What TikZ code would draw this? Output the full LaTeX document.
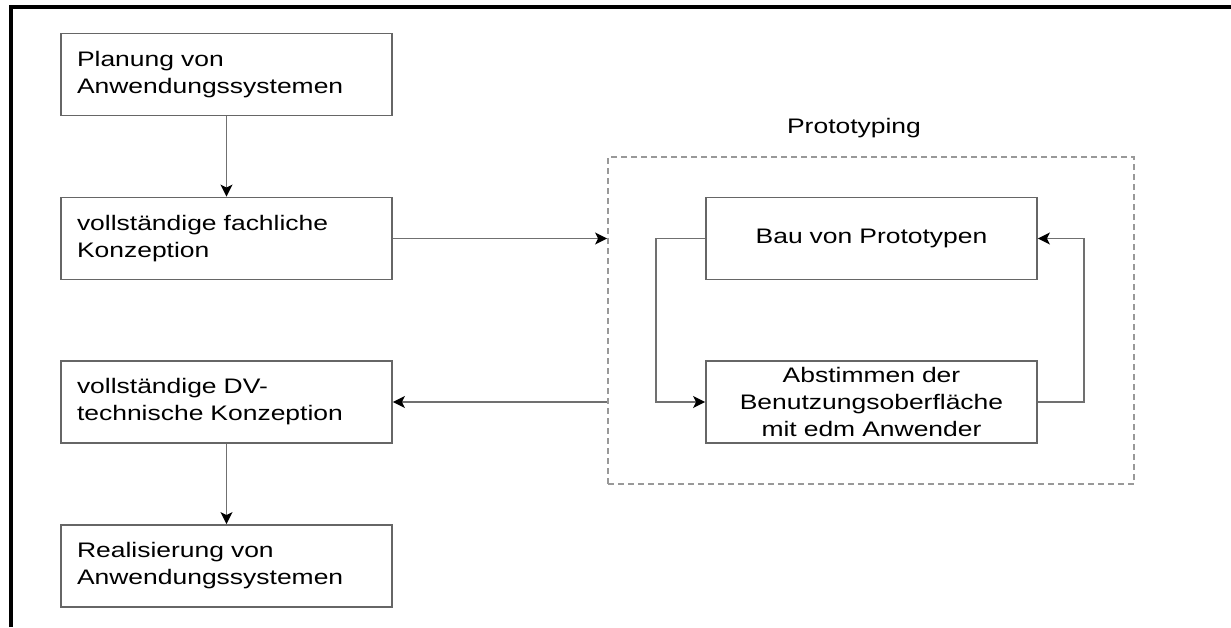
\documentclass[tikz,border=0pt]{standalone}
\usepackage{fontspec}
\setmainfont{Liberation Sans}[FakeStretch=1.26]
\usetikzlibrary{arrows.meta}
\definecolor{boxline}{HTML}{666666}
\definecolor{conline}{HTML}{707070}
\definecolor{dashline}{HTML}{999999}
\begin{document}
\begin{tikzpicture}[x=1pt,y=-1pt,
  every node/.style={font=\fontsize{21}{27}\selectfont},
  leftbox/.style={draw=boxline, line width=1.8pt, minimum width=331pt, minimum height=82pt,
    text width=299pt, inner xsep=16pt, align=left, anchor=center},
  rightbox/.style={draw=boxline, line width=1.8pt, minimum width=331pt, minimum height=82pt,
    text width=310pt, align=center, anchor=center},
  conn/.style={draw=conline, line width=1.8pt, -{Stealth[length=12pt,width=12pt,inset=3pt,fill=black,color=black]}},
  dashbox/.style={draw=dashline, line width=1.8pt, dash pattern=on 6pt off 4pt, minimum width=526pt, minimum height=327pt}]
\useasboundingbox (0,0) rectangle (1231,627);
\fill[white] (0,0) rectangle (1231,627);
\draw[line width=4pt] (11,627) -- (11,7) -- (1231,7);

\node[leftbox] (b1) at (226.5,74.5) {Planung von\\Anwendungssystemen};
\node[leftbox] (b2) at (226.5,238.5) {vollständige fachliche\\Konzeption};
\node[leftbox] (b4) at (226.5,402) {vollständige DV-\\technische Konzeption};
\node[leftbox] (b5) at (226.5,566) {Realisierung von\\Anwendungssystemen};

\node[dashbox] (proto) at (871,320.5) {};
\node (ptitle) at (854,128) {Prototyping};

\node[rightbox] (bau) at (871.5,238.5) {Bau von Prototypen};
\node[rightbox] (abs) at (871.5,402) {Abstimmen der\\Benutzungsoberfläche\\mit edm Anwender};

\draw[conn] (b1.south) -- (b2.north);
\draw[conn] (b4.south) -- (b5.north);
\draw[conn] (b2.east) -- (b2.east -| proto.west);
\draw[conn] (proto.west |- b4.east) -- (b4.east);
\draw[conn] (bau.west) -- ++(-49,0) |- (abs.west);
\draw[conn] (abs.east) -- ++(46,0) |- (bau.east);
\end{tikzpicture}
\end{document}
